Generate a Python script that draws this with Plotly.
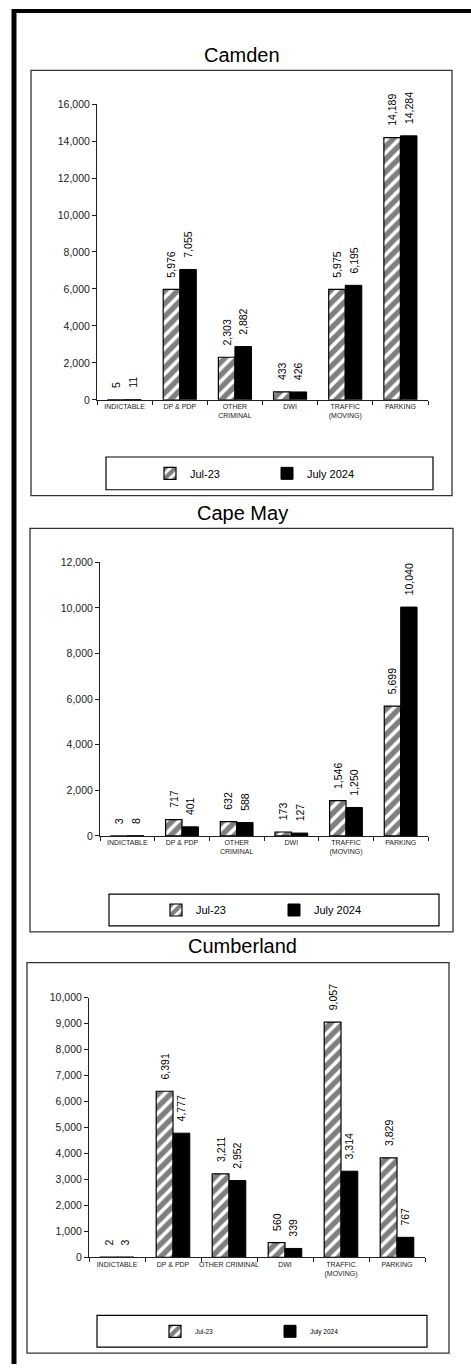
import plotly.graph_objects as go

W, H = 471, 1370

cats_a = ["INDICTABLE", "DP & PDP", "OTHER<br>CRIMINAL", "DWI", "TRAFFIC<br>(MOVING)", "PARKING"]
cats_b = ["INDICTABLE", "DP & PDP", "OTHER CRIMINAL", "DWI", "TRAFFIC<br>(MOVING)", "PARKING"]

series_names = ["Jul-23", "July 2024"]

camden_2023 = [5, 5976, 2303, 433, 5975, 14189]
camden_2024 = [11, 7055, 2882, 426, 6195, 14284]

capemay_2023 = [3, 717, 632, 173, 1546, 5699]
capemay_2024 = [8, 401, 588, 127, 1250, 10040]

cumberland_2023 = [2, 6391, 3211, 560, 9057, 3829]
cumberland_2024 = [3, 4777, 2952, 339, 3314, 767]

counties = ["Camden", "Cape May", "Cumberland"]


def fx(x):
    return x / W


def fy(y):
    return 1 - y / H


FONT = "Arial, Liberation Sans, sans-serif"
LABEL = "\u00a0\u00a0\u00a0%{y:,}"

# pixel geometry of each panel (box, plot area, legend)
panels = [
    dict(cats=cats_a, a=camden_2023, b=camden_2024, ymax=16000, dtick=2000,
         box=(31, 65, 452, 494), plot=(97, 99, 428, 397.3), title_y=49,
         leg=(106, 455, 433, 488), leg_x=150, leg_font=11, entry=72),
    dict(cats=cats_a, a=capemay_2023, b=capemay_2024, ymax=12000, dtick=2000,
         box=(30, 527, 453, 934), plot=(100, 561.3, 428, 837.3), title_y=511,
         leg=(109, 896, 439, 928), leg_x=156, leg_font=11, entry=73),
    dict(cats=cats_b, a=cumberland_2023, b=cumberland_2024, ymax=10000, dtick=1000,
         box=(27, 965, 449, 1359), plot=(89, 1000.3, 425, 1262.3), title_y=948,
         leg=(97, 1321, 427, 1353), leg_x=155, leg_font=6.5, entry=70),
]

fig = go.Figure()
layout = dict(shapes=[], annotations=[])

for i, p in enumerate(panels):
    n = "" if i == 0 else str(i + 1)
    leg = "legend" + n
    fig.add_trace(go.Bar(
        x=p["cats"], y=p["a"], name=series_names[0],
        xaxis="x" + n, yaxis="y" + n, legend=leg,
        marker=dict(color="white", line=dict(color="black", width=1.2),
                    pattern=dict(shape="/", fgcolor="black", bgcolor="white",
                                 size=9, solidity=0.6)),
        texttemplate=LABEL, textposition="outside", textangle=-90,
        constraintext="none", cliponaxis=False,
        textfont=dict(size=10.5, color="black", family=FONT),
    ))
    fig.add_trace(go.Bar(
        x=p["cats"], y=p["b"], name=series_names[1],
        xaxis="x" + n, yaxis="y" + n, legend=leg,
        marker=dict(color="black", line=dict(color="black", width=1)),
        texttemplate=LABEL, textposition="outside", textangle=-90,
        constraintext="none", cliponaxis=False,
        textfont=dict(size=10.5, color="black", family=FONT),
    ))

    x0, y0, x1, y1 = p["plot"]
    layout["xaxis" + n] = dict(
        domain=[fx(x0), fx(x1)], anchor="y" + n, type="category",
        showline=True, linecolor="#222", linewidth=1, tickangle=0,
        ticks="outside", ticklen=4, tickcolor="#222", tickson="boundaries",
        tickfont=dict(size=7, color="#222", family=FONT), showgrid=False,
    )
    layout["yaxis" + n] = dict(
        domain=[fy(y1), fy(y0)], anchor="x" + n, range=[0, p["ymax"]],
        dtick=p["dtick"], tickformat=",", showline=True, linecolor="#222",
        linewidth=1, ticks="outside", ticklen=4, tickcolor="#222",
        tickfont=dict(size=10.5, color="#222", family=FONT), showgrid=False,
        zeroline=False,
    )
    lx0, ly0, lx1, ly1 = p["leg"]
    layout[leg] = dict(
        orientation="h", x=fx(p["leg_x"]), xanchor="left",
        y=fy((ly0 + ly1) / 2), yanchor="middle",
        bgcolor="rgba(0,0,0,0)", font=dict(size=p["leg_font"], color="black", family=FONT),
        entrywidth=p["entry"], entrywidthmode="pixels", traceorder="normal",
    )
    bx0, by0, bx1, by1 = p["box"]
    layout["shapes"].append(dict(type="rect", xref="paper", yref="paper",
                                 x0=fx(bx0), x1=fx(bx1), y0=fy(by1), y1=fy(by0),
                                 line=dict(color="#333", width=1.3)))
    layout["shapes"].append(dict(type="rect", xref="paper", yref="paper",
                                 x0=fx(lx0), x1=fx(lx1), y0=fy(ly1), y1=fy(ly0),
                                 line=dict(color="black", width=1.2)))
    layout["annotations"].append(dict(
        text=counties[i], xref="paper", yref="paper", x=fx(242), y=fy(p["title_y"]),
        xanchor="center", yanchor="middle", showarrow=False,
        font=dict(size=20, color="black", family=FONT),
    ))

# page frame: thick rule on the left and along the top
layout["shapes"].append(dict(type="line", xref="paper", yref="paper",
                             x0=fx(14), x1=fx(14), y0=0, y1=fy(3),
                             line=dict(color="black", width=5)))
layout["shapes"].append(dict(type="line", xref="paper", yref="paper",
                             x0=fx(12), x1=1, y0=fy(5), y1=fy(5),
                             line=dict(color="black", width=4)))

fig.update_layout(
    width=W, height=H, margin=dict(l=0, r=0, t=0, b=0),
    paper_bgcolor="white", plot_bgcolor="white",
    barmode="group", bargap=0.4, bargroupgap=0,
    font=dict(family=FONT, color="black"),
    **layout,
)

fig.write_html(
    "out.html",
    config={"displayModeBar": False},
    post_script="document.body.style.margin='0';"
                "document.documentElement.style.overflow='hidden';",
)
